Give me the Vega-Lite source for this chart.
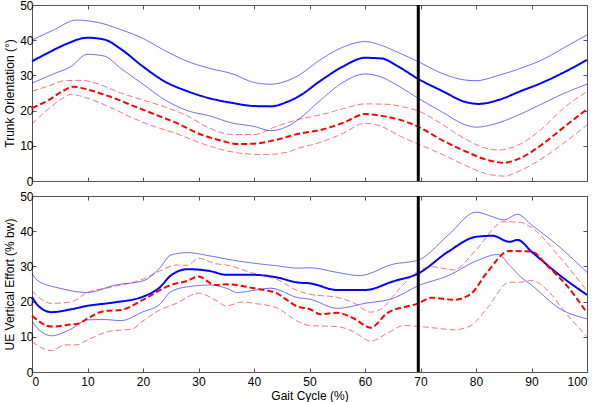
{
  "$schema": "https://vega.github.io/schema/vega-lite/v6.json",
  "background": "white",
  "padding": {"left": 3, "top": -2, "right": 10, "bottom": 0},
  "spacing": 1,
  "config": {
    "font": "Liberation Sans",
    "view": {"stroke": "#555", "strokeWidth": 1},
    "axis": {"labelFont": "Liberation Sans", "titleFont": "Liberation Sans", "labelFontSize": 12, "titleFontSize": 12, "titleFontWeight": "normal", "labelColor": "#000", "titleColor": "#000", "domain": false, "grid": false, "tickColor": "#555", "tickSize": -4}
  },
  "datasets": {
    "trunk": [
      {"s":"Bm","x":0,"y":34},{"s":"Bm","x":3,"y":36.5},{"s":"Bm","x":6,"y":38.8},{"s":"Bm","x":10,"y":40.7},{"s":"Bm","x":13,"y":40.2},{"s":"Bm","x":16,"y":37.5},{"s":"Bm","x":20,"y":32.5},{"s":"Bm","x":24,"y":28.2},{"s":"Bm","x":28,"y":25.5},{"s":"Bm","x":32,"y":23.5},{"s":"Bm","x":36,"y":22.2},{"s":"Bm","x":40,"y":21.3},{"s":"Bm","x":43,"y":21.2},{"s":"Bm","x":46,"y":22.5},{"s":"Bm","x":48,"y":24},{"s":"Bm","x":52,"y":28.5},{"s":"Bm","x":56,"y":32.5},{"s":"Bm","x":60,"y":35},{"s":"Bm","x":63,"y":34.8},{"s":"Bm","x":66,"y":32.5},{"s":"Bm","x":69.6,"y":29},{"s":"Bm","x":74,"y":25.5},{"s":"Bm","x":78,"y":22.5},{"s":"Bm","x":80.5,"y":21.9},{"s":"Bm","x":84,"y":23},{"s":"Bm","x":88,"y":25.5},{"s":"Bm","x":92,"y":28},{"s":"Bm","x":96,"y":31},{"s":"Bm","x":100,"y":34.4},
      {"s":"Bu","x":0,"y":40},{"s":"Bu","x":4,"y":43},{"s":"Bu","x":8,"y":45.7},{"s":"Bu","x":12,"y":45},{"s":"Bu","x":16,"y":43},{"s":"Bu","x":20,"y":40.5},{"s":"Bu","x":24,"y":37},{"s":"Bu","x":28,"y":34},{"s":"Bu","x":32,"y":32},{"s":"Bu","x":36,"y":30.5},{"s":"Bu","x":40,"y":28},{"s":"Bu","x":43,"y":27.5},{"s":"Bu","x":46,"y":28.5},{"s":"Bu","x":48,"y":30},{"s":"Bu","x":52,"y":34.5},{"s":"Bu","x":56,"y":38},{"s":"Bu","x":60,"y":39.6},{"s":"Bu","x":63,"y":38.5},{"s":"Bu","x":66,"y":36.5},{"s":"Bu","x":69.6,"y":33.9},{"s":"Bu","x":74,"y":30.5},{"s":"Bu","x":78,"y":28.7},{"s":"Bu","x":80,"y":28.5},{"s":"Bu","x":84,"y":30},{"s":"Bu","x":88,"y":32},{"s":"Bu","x":92,"y":34.5},{"s":"Bu","x":96,"y":38},{"s":"Bu","x":100,"y":41.5},
      {"s":"Bl","x":0,"y":27.8},{"s":"Bl","x":4,"y":30.5},{"s":"Bl","x":7,"y":32.5},{"s":"Bl","x":10,"y":36},{"s":"Bl","x":13,"y":35.5},{"s":"Bl","x":16,"y":32},{"s":"Bl","x":20,"y":27.5},{"s":"Bl","x":24,"y":23},{"s":"Bl","x":28,"y":20},{"s":"Bl","x":32,"y":18.5},{"s":"Bl","x":36,"y":16.5},{"s":"Bl","x":40,"y":15.5},{"s":"Bl","x":43,"y":14.3},{"s":"Bl","x":46,"y":15.5},{"s":"Bl","x":48,"y":17.5},{"s":"Bl","x":52,"y":23},{"s":"Bl","x":56,"y":28},{"s":"Bl","x":60,"y":30.4},{"s":"Bl","x":63,"y":29.5},{"s":"Bl","x":66,"y":27},{"s":"Bl","x":69.6,"y":23.5},{"s":"Bl","x":74,"y":19.5},{"s":"Bl","x":78,"y":16},{"s":"Bl","x":80,"y":15.3},{"s":"Bl","x":84,"y":16.5},{"s":"Bl","x":88,"y":19},{"s":"Bl","x":92,"y":22},{"s":"Bl","x":96,"y":25},{"s":"Bl","x":100,"y":27.5},
      {"s":"Rm","x":0,"y":20.7},{"s":"Rm","x":3,"y":23},{"s":"Rm","x":5.5,"y":25.5},{"s":"Rm","x":7.5,"y":26.8},{"s":"Rm","x":10,"y":26},{"s":"Rm","x":14,"y":24},{"s":"Rm","x":18,"y":21.5},{"s":"Rm","x":22,"y":19},{"s":"Rm","x":26,"y":16.5},{"s":"Rm","x":30,"y":13.5},{"s":"Rm","x":34,"y":11.5},{"s":"Rm","x":37,"y":10.5},{"s":"Rm","x":40,"y":10.6},{"s":"Rm","x":44,"y":11.7},{"s":"Rm","x":48,"y":13.4},{"s":"Rm","x":52,"y":14.5},{"s":"Rm","x":56,"y":16.5},{"s":"Rm","x":60,"y":19},{"s":"Rm","x":63,"y":18.5},{"s":"Rm","x":66,"y":17.5},{"s":"Rm","x":69.6,"y":15.4},{"s":"Rm","x":74,"y":11.5},{"s":"Rm","x":78,"y":8.5},{"s":"Rm","x":82,"y":6},{"s":"Rm","x":85,"y":5.2},{"s":"Rm","x":88,"y":6.5},{"s":"Rm","x":92,"y":10.5},{"s":"Rm","x":96,"y":15.5},{"s":"Rm","x":100,"y":20.4},
      {"s":"Ru","x":0,"y":25.5},{"s":"Ru","x":3,"y":27},{"s":"Ru","x":6,"y":28.5},{"s":"Ru","x":9,"y":28.6},{"s":"Ru","x":12,"y":27.5},{"s":"Ru","x":16,"y":25},{"s":"Ru","x":20,"y":23},{"s":"Ru","x":24,"y":21},{"s":"Ru","x":28,"y":18.5},{"s":"Ru","x":32,"y":15},{"s":"Ru","x":36,"y":13.2},{"s":"Ru","x":40,"y":13.2},{"s":"Ru","x":44,"y":15.5},{"s":"Ru","x":48,"y":17.5},{"s":"Ru","x":52,"y":18.8},{"s":"Ru","x":56,"y":20.5},{"s":"Ru","x":60,"y":21.9},{"s":"Ru","x":64,"y":21.8},{"s":"Ru","x":67,"y":21},{"s":"Ru","x":69.6,"y":19.9},{"s":"Ru","x":74,"y":16},{"s":"Ru","x":78,"y":12},{"s":"Ru","x":82,"y":9.2},{"s":"Ru","x":84,"y":8.8},{"s":"Ru","x":88,"y":10.5},{"s":"Ru","x":92,"y":15},{"s":"Ru","x":96,"y":21},{"s":"Ru","x":100,"y":25.4},
      {"s":"Rl","x":0,"y":16.2},{"s":"Rl","x":3,"y":20.5},{"s":"Rl","x":5.5,"y":23.5},{"s":"Rl","x":7,"y":24.6},{"s":"Rl","x":10,"y":23.5},{"s":"Rl","x":14,"y":21},{"s":"Rl","x":18,"y":18},{"s":"Rl","x":22,"y":15.5},{"s":"Rl","x":26,"y":13.5},{"s":"Rl","x":30,"y":11},{"s":"Rl","x":34,"y":9},{"s":"Rl","x":38,"y":7.8},{"s":"Rl","x":42,"y":7.5},{"s":"Rl","x":46,"y":8.2},{"s":"Rl","x":48,"y":9.3},{"s":"Rl","x":52,"y":11},{"s":"Rl","x":56,"y":13.5},{"s":"Rl","x":60,"y":16.4},{"s":"Rl","x":63,"y":15.5},{"s":"Rl","x":66,"y":13},{"s":"Rl","x":69.6,"y":10.5},{"s":"Rl","x":74,"y":7.5},{"s":"Rl","x":78,"y":4.5},{"s":"Rl","x":82,"y":2},{"s":"Rl","x":85,"y":1.4},{"s":"Rl","x":88,"y":3},{"s":"Rl","x":92,"y":6.5},{"s":"Rl","x":96,"y":11},{"s":"Rl","x":100,"y":15.9}
    ],
    "ue": [
      {"s":"Bm","x":0,"y":21.4},{"s":"Bm","x":1,"y":19},{"s":"Bm","x":3.5,"y":17},{"s":"Bm","x":7,"y":17.8},{"s":"Bm","x":10,"y":18.8},{"s":"Bm","x":15,"y":19.8},{"s":"Bm","x":20,"y":21.4},{"s":"Bm","x":23,"y":24},{"s":"Bm","x":25,"y":27.4},{"s":"Bm","x":28,"y":29.2},{"s":"Bm","x":32,"y":28.7},{"s":"Bm","x":35,"y":27.6},{"s":"Bm","x":40,"y":27.6},{"s":"Bm","x":44,"y":26.9},{"s":"Bm","x":48,"y":25.4},{"s":"Bm","x":50,"y":25.2},{"s":"Bm","x":55,"y":23.3},{"s":"Bm","x":60,"y":23.3},{"s":"Bm","x":65,"y":25.7},{"s":"Bm","x":69.6,"y":28},{"s":"Bm","x":75,"y":34.2},{"s":"Bm","x":80,"y":38.4},{"s":"Bm","x":83,"y":38.7},{"s":"Bm","x":86,"y":37},{"s":"Bm","x":87.5,"y":37.5},{"s":"Bm","x":90,"y":34.2},{"s":"Bm","x":95,"y":27.6},{"s":"Bm","x":100,"y":21.9},
      {"s":"Bu","x":0,"y":28},{"s":"Bu","x":1,"y":26},{"s":"Bu","x":5,"y":23.8},{"s":"Bu","x":10,"y":22.6},{"s":"Bu","x":15,"y":24.7},{"s":"Bu","x":20,"y":25.9},{"s":"Bu","x":23,"y":29.5},{"s":"Bu","x":25,"y":33.2},{"s":"Bu","x":28,"y":33.9},{"s":"Bu","x":32,"y":33},{"s":"Bu","x":35,"y":32.1},{"s":"Bu","x":40,"y":30.9},{"s":"Bu","x":44,"y":30.2},{"s":"Bu","x":48,"y":29.5},{"s":"Bu","x":50,"y":29.6},{"s":"Bu","x":55,"y":28.3},{"s":"Bu","x":59,"y":27.4},{"s":"Bu","x":65,"y":30.6},{"s":"Bu","x":69.6,"y":31.8},{"s":"Bu","x":75,"y":38.9},{"s":"Bu","x":80,"y":45.4},{"s":"Bu","x":83,"y":44.1},{"s":"Bu","x":85,"y":43.2},{"s":"Bu","x":87.5,"y":44.8},{"s":"Bu","x":90,"y":41.8},{"s":"Bu","x":95,"y":35.6},{"s":"Bu","x":100,"y":28.3},
      {"s":"Bl","x":0,"y":14.3},{"s":"Bl","x":1,"y":12.4},{"s":"Bl","x":3.5,"y":10.3},{"s":"Bl","x":7,"y":12.2},{"s":"Bl","x":10,"y":14.8},{"s":"Bl","x":13,"y":14.9},{"s":"Bl","x":16,"y":14.6},{"s":"Bl","x":20,"y":17.1},{"s":"Bl","x":23,"y":19.2},{"s":"Bl","x":25,"y":22.8},{"s":"Bl","x":28,"y":24.2},{"s":"Bl","x":32,"y":24.7},{"s":"Bl","x":35,"y":23.8},{"s":"Bl","x":37,"y":22.6},{"s":"Bl","x":40,"y":23.2},{"s":"Bl","x":43,"y":23.8},{"s":"Bl","x":48,"y":21.1},{"s":"Bl","x":50,"y":20.7},{"s":"Bl","x":55,"y":18.1},{"s":"Bl","x":60,"y":19.5},{"s":"Bl","x":65,"y":20.9},{"s":"Bl","x":69.6,"y":24.5},{"s":"Bl","x":75,"y":27.4},{"s":"Bl","x":80,"y":31.5},{"s":"Bl","x":84,"y":33.4},{"s":"Bl","x":86,"y":30.4},{"s":"Bl","x":88,"y":27.1},{"s":"Bl","x":90,"y":24.7},{"s":"Bl","x":95,"y":18.1},{"s":"Bl","x":100,"y":15.1},
      {"s":"Rm","x":0,"y":16},{"s":"Rm","x":3.5,"y":12.9},{"s":"Rm","x":7,"y":13.5},{"s":"Rm","x":8.5,"y":13.8},{"s":"Rm","x":10,"y":15.2},{"s":"Rm","x":13,"y":17.3},{"s":"Rm","x":16,"y":17.6},{"s":"Rm","x":20,"y":20.5},{"s":"Rm","x":25,"y":24.7},{"s":"Rm","x":28,"y":25.9},{"s":"Rm","x":30,"y":27.1},{"s":"Rm","x":33,"y":24.7},{"s":"Rm","x":35,"y":24.9},{"s":"Rm","x":40,"y":23.8},{"s":"Rm","x":44,"y":22.4},{"s":"Rm","x":48,"y":18.5},{"s":"Rm","x":50,"y":17.9},{"s":"Rm","x":52,"y":16.4},{"s":"Rm","x":55,"y":16.8},{"s":"Rm","x":58,"y":15.2},{"s":"Rm","x":61,"y":12.6},{"s":"Rm","x":64,"y":16.7},{"s":"Rm","x":69.6,"y":19.5},{"s":"Rm","x":72,"y":21.1},{"s":"Rm","x":76,"y":20.5},{"s":"Rm","x":79,"y":22.1},{"s":"Rm","x":82,"y":28.3},{"s":"Rm","x":86,"y":34.4},{"s":"Rm","x":90,"y":34.2},{"s":"Rm","x":93,"y":29.9},{"s":"Rm","x":96,"y":25.2},{"s":"Rm","x":100,"y":16.8},
      {"s":"Ru","x":0,"y":23},{"s":"Ru","x":3.5,"y":19.5},{"s":"Ru","x":7,"y":19.9},{"s":"Ru","x":10,"y":22.6},{"s":"Ru","x":14,"y":24},{"s":"Ru","x":20,"y":26.4},{"s":"Ru","x":23,"y":28.7},{"s":"Ru","x":26,"y":30.4},{"s":"Ru","x":28,"y":30.3},{"s":"Ru","x":30,"y":32.3},{"s":"Ru","x":33,"y":30.8},{"s":"Ru","x":35,"y":30.4},{"s":"Ru","x":40,"y":28},{"s":"Ru","x":44,"y":26.4},{"s":"Ru","x":48,"y":23},{"s":"Ru","x":50,"y":22.1},{"s":"Ru","x":55,"y":21.2},{"s":"Ru","x":58,"y":19.6},{"s":"Ru","x":61,"y":17},{"s":"Ru","x":63,"y":18},{"s":"Ru","x":66,"y":23.3},{"s":"Ru","x":69.6,"y":28.7},{"s":"Ru","x":72,"y":29.9},{"s":"Ru","x":76,"y":29},{"s":"Ru","x":80,"y":34.7},{"s":"Ru","x":85,"y":42.7},{"s":"Ru","x":88,"y":42.5},{"s":"Ru","x":90,"y":41},{"s":"Ru","x":95,"y":32.8},{"s":"Ru","x":100,"y":23},
      {"s":"Rl","x":0,"y":8.6},{"s":"Rl","x":3.5,"y":6.1},{"s":"Rl","x":6,"y":7.7},{"s":"Rl","x":8,"y":7.7},{"s":"Rl","x":10,"y":9.1},{"s":"Rl","x":14,"y":11.6},{"s":"Rl","x":18,"y":12.2},{"s":"Rl","x":20,"y":14.5},{"s":"Rl","x":23,"y":17.6},{"s":"Rl","x":26,"y":19.5},{"s":"Rl","x":30,"y":22.4},{"s":"Rl","x":33,"y":20.5},{"s":"Rl","x":35,"y":18.8},{"s":"Rl","x":38,"y":19.9},{"s":"Rl","x":40,"y":19.5},{"s":"Rl","x":44,"y":18.3},{"s":"Rl","x":48,"y":14.3},{"s":"Rl","x":50,"y":13.2},{"s":"Rl","x":55,"y":12.9},{"s":"Rl","x":58,"y":11.4},{"s":"Rl","x":61,"y":8.8},{"s":"Rl","x":64,"y":11},{"s":"Rl","x":67,"y":13.2},{"s":"Rl","x":72,"y":12.6},{"s":"Rl","x":76,"y":12},{"s":"Rl","x":79,"y":13.1},{"s":"Rl","x":82,"y":18.1},{"s":"Rl","x":86,"y":25.5},{"s":"Rl","x":88,"y":25.5},{"s":"Rl","x":90,"y":26},{"s":"Rl","x":93,"y":23},{"s":"Rl","x":96,"y":17.1},{"s":"Rl","x":100,"y":10}
    ],
    "marker": [{"x": 69.6}]
  },
  "vconcat": [
    {
      "width": 555, "height": 176,
      "layer": [
        {
          "data": {"name": "trunk"},
          "mark": {"type": "line", "interpolate": "monotone"},
          "encoding": {
            "x": {"field": "x", "type": "quantitative", "scale": {"domain": [0, 100], "nice": false}, "axis": {"orient": "bottom", "labels": false, "title": null, "values": [0,10,20,30,40,50,60,70,80,90,100]}},
            "y": {"field": "y", "type": "quantitative", "scale": {"domain": [0, 50], "nice": false}, "axis": {"orient": "left", "title": "Trunk Orientation (°)", "values": [0,10,20,30,40,50], "labelPadding": 3, "titlePadding": 3}},
            "color": {"field": "s", "type": "nominal", "scale": {"domain": ["Bm","Bu","Bl","Rm","Ru","Rl"], "range": ["#0000ff","#0000ff","#0000ff","#ff0000","#ff0000","#ff0000"]}, "legend": null},
            "strokeWidth": {"field": "s", "type": "nominal", "scale": {"type": "ordinal", "domain": ["Bm","Bu","Bl","Rm","Ru","Rl"], "range": [2,1,1,2,1,1]}, "legend": null},
            "opacity": {"field": "s", "type": "nominal", "scale": {"type": "ordinal", "domain": ["Bm","Bu","Bl","Rm","Ru","Rl"], "range": [1,0.6,0.6,1,0.55,0.55]}, "legend": null},
            "strokeDash": {"field": "s", "type": "nominal", "scale": {"domain": ["Bm","Bu","Bl","Rm","Ru","Rl"], "range": [[1,0],[1,0],[1,0],[6,3],[6,3],[6,3]]}, "legend": null}
          }
        },
        {
          "data": {"name": "trunk"},
          "mark": {"type": "line", "opacity": 0},
          "encoding": {
            "x": {"field": "x", "type": "quantitative", "axis": {"orient": "top", "labels": false, "title": null, "values": [0,10,20,30,40,50,60,70,80,90,100]}},
            "y": {"field": "y", "type": "quantitative", "axis": {"orient": "right", "labels": false, "title": null, "values": [0,10,20,30,40,50]}},
            "detail": {"field": "s"}
          }
        },
        {
          "data": {"name": "marker"},
          "mark": {"type": "rule", "color": "#000", "strokeWidth": 3},
          "encoding": {"x": {"field": "x", "type": "quantitative", "axis": null}}
        }
      ],
      "resolve": {"axis": {"x": "independent", "y": "independent"}}
    },
    {
      "width": 555, "height": 176,
      "layer": [
        {
          "data": {"name": "ue"},
          "mark": {"type": "line", "interpolate": "monotone"},
          "encoding": {
            "x": {"field": "x", "type": "quantitative", "scale": {"domain": [0, 100], "nice": false}, "axis": {"orient": "bottom", "title": "Gait Cycle (%)", "values": [0,10,20,30,40,50,60,70,80,90,100], "labelPadding": 8, "titlePadding": 3}},
            "y": {"field": "y", "type": "quantitative", "scale": {"domain": [0, 50], "nice": false}, "axis": {"orient": "left", "title": "UE Vertical Effort (% bw)", "values": [0,10,20,30,40,50], "labelPadding": 3, "titlePadding": 3}},
            "color": {"field": "s", "type": "nominal", "scale": {"domain": ["Bm","Bu","Bl","Rm","Ru","Rl"], "range": ["#0000ff","#0000ff","#0000ff","#ff0000","#ff0000","#ff0000"]}, "legend": null},
            "strokeWidth": {"field": "s", "type": "nominal", "scale": {"type": "ordinal", "domain": ["Bm","Bu","Bl","Rm","Ru","Rl"], "range": [2,1,1,2,1,1]}, "legend": null},
            "opacity": {"field": "s", "type": "nominal", "scale": {"type": "ordinal", "domain": ["Bm","Bu","Bl","Rm","Ru","Rl"], "range": [1,0.6,0.6,1,0.55,0.55]}, "legend": null},
            "strokeDash": {"field": "s", "type": "nominal", "scale": {"domain": ["Bm","Bu","Bl","Rm","Ru","Rl"], "range": [[1,0],[1,0],[1,0],[6,3],[6,3],[6,3]]}, "legend": null}
          }
        },
        {
          "data": {"name": "ue"},
          "mark": {"type": "line", "opacity": 0},
          "encoding": {
            "x": {"field": "x", "type": "quantitative", "axis": {"orient": "top", "labels": false, "title": null, "values": [0,10,20,30,40,50,60,70,80,90,100]}},
            "y": {"field": "y", "type": "quantitative", "axis": {"orient": "right", "labels": false, "title": null, "values": [0,10,20,30,40,50]}},
            "detail": {"field": "s"}
          }
        },
        {
          "data": {"name": "marker"},
          "mark": {"type": "rule", "color": "#000", "strokeWidth": 3},
          "encoding": {"x": {"field": "x", "type": "quantitative", "axis": null}}
        }
      ],
      "resolve": {"axis": {"x": "independent", "y": "independent"}}
    }
  ]
}
